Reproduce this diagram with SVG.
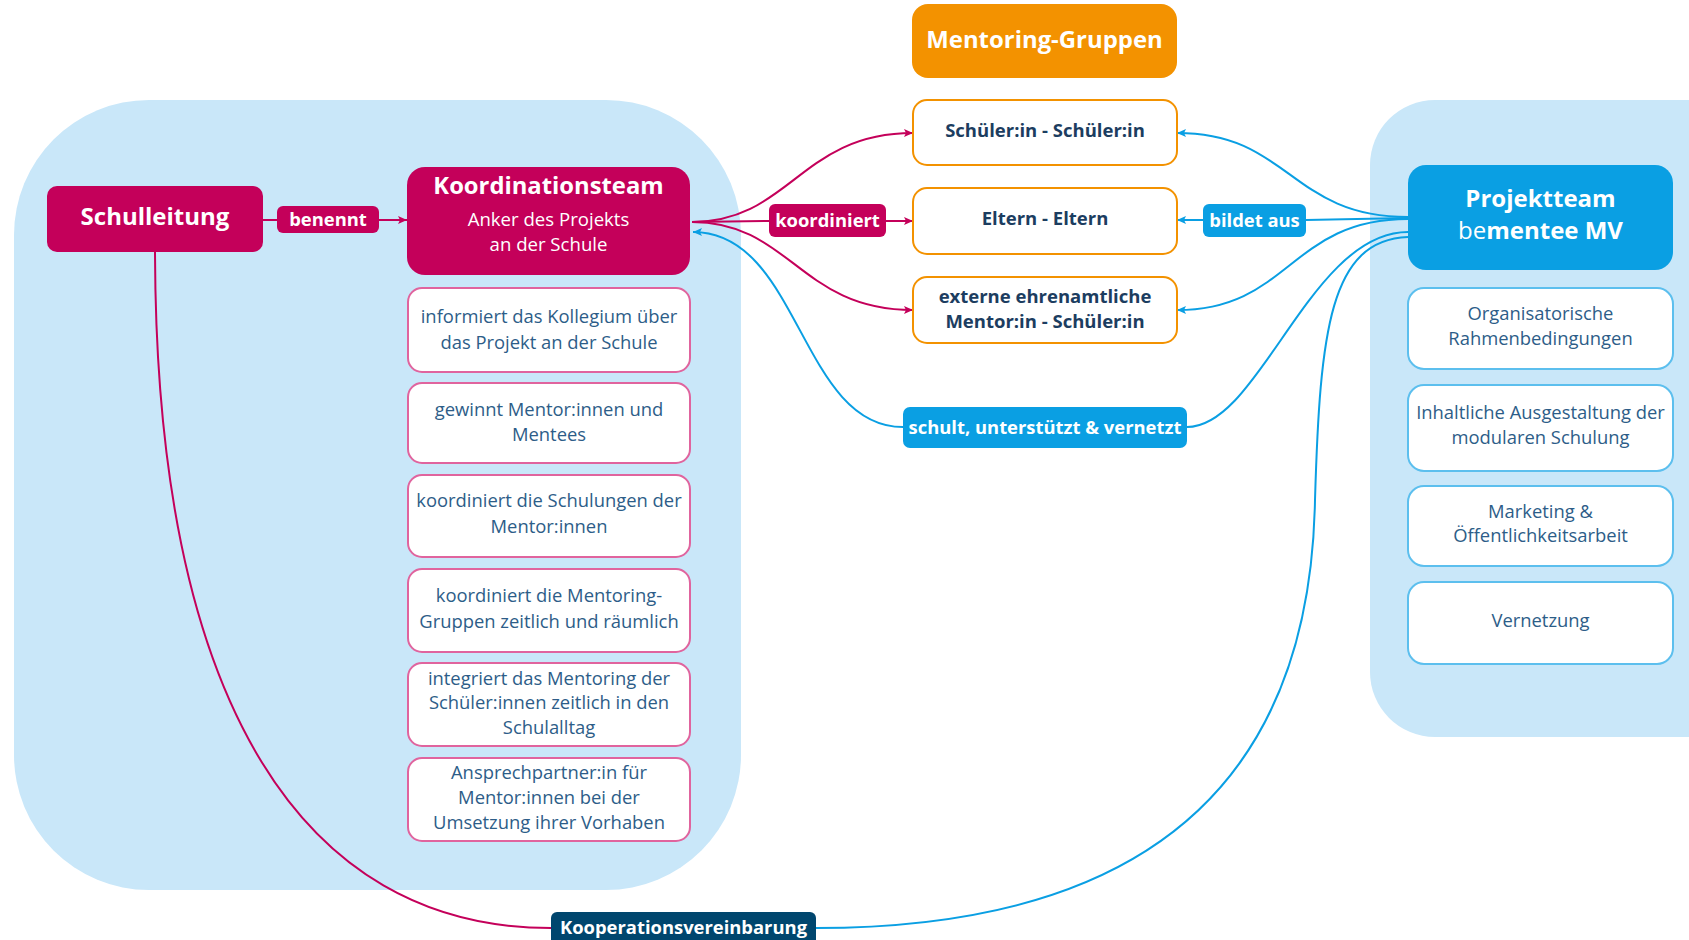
<svg xmlns="http://www.w3.org/2000/svg" width="1689" height="940" viewBox="0 0 1689 940">
<style>
text{font-family:"Open Sans","Noto Sans","Liberation Sans",sans-serif;text-anchor:middle}
.panel{fill:#C9E7F9}
.mag{fill:#C4005A}
.blu{fill:#0A9FE3}
.item-l{fill:#fff;stroke:#E0649E;stroke-width:2}
.item-r{fill:#fff;stroke:#5CBFEE;stroke-width:2}
.item-o{fill:#fff;stroke:#F39200;stroke-width:2}
.it{font-size:18.4px;fill:#2D5D88}
.ot{font-size:18.5px;font-weight:700;fill:#1C3D60}
.lb{font-size:18.4px;font-weight:700;fill:#fff}
.wt{fill:#fff}
.cr{fill:none;stroke:#C4005A;stroke-width:2}
.cb{fill:none;stroke:#0A9FE3;stroke-width:2}
</style>
<defs>
<marker id="ar" markerUnits="userSpaceOnUse" markerWidth="10" markerHeight="10" refX="9" refY="4" orient="auto"><path d="M0,0 L9,4 L0,8 L2,4 z" fill="#C4005A"/></marker>
<marker id="ab" markerUnits="userSpaceOnUse" markerWidth="10" markerHeight="10" refX="9" refY="4" orient="auto"><path d="M0,0 L9,4 L0,8 L2,4 z" fill="#0A9FE3"/></marker>
</defs>
<rect width="1689" height="940" fill="#fff"/>
<g id="panels">
<rect class="panel" x="14" y="100" width="727" height="790" rx="135" ry="135"/>
<rect class="panel" x="1370" y="100" width="400" height="637" rx="65" ry="65"/>
</g>
<g id="connectors">
<path class="cr" d="M263,220 L277,220"/>
<path class="cr" d="M379,220 L407,220" marker-end="url(#ar)"/>
<path class="cr" d="M692,222 C790,222 800,133 913,133" marker-end="url(#ar)"/>
<path class="cr" d="M692,222 L769,221"/>
<path class="cr" d="M886,221 L913,221" marker-end="url(#ar)"/>
<path class="cr" d="M692,222 C790,222 800,310 913,310" marker-end="url(#ar)"/>
<path class="cr" d="M155,252 C156,700 300,928 551,928"/>
<path class="cb" d="M1408,217 C1290,217 1290,133 1177,133" marker-end="url(#ab)"/>
<path class="cb" d="M1408,218 L1306,220"/>
<path class="cb" d="M1203,220 L1177,220" marker-end="url(#ab)"/>
<path class="cb" d="M1408,219 C1290,219 1290,310 1177,310" marker-end="url(#ab)"/>
<path class="cb" d="M1408,232 C1310,232 1260,427 1187,427"/>
<path class="cb" d="M903,427 C800,427 800,232 693,232" marker-end="url(#ab)"/>
<path class="cb" d="M1408,237 C1330,240 1320,330 1315,500 C1310,780 1150,928 816,928"/>
</g>
<g id="schulleitung">
<rect class="mag" x="47" y="186" width="216" height="66" rx="10"/>
<text x="155" y="225" class="wt" font-size="24" font-weight="700">Schulleitung</text>
</g>
<g id="label-benennt">
<rect class="mag" x="277" y="206" width="102" height="27" rx="6"/>
<text x="328" y="226" class="lb">benennt</text>
</g>
<g id="koordinationsteam">
<rect class="mag" x="407" y="167" width="283" height="108" rx="18"/>
<text x="548.5" y="193.5" class="wt" font-size="23.8" font-weight="700">Koordinationsteam</text>
<text x="548.5" y="225.5" class="wt" font-size="18.6">Anker des Projekts</text>
<text x="548.5" y="251" class="wt" font-size="18.6">an der Schule</text>
</g>
<g id="kt-1">
<rect class="item-l" x="408" y="288" width="282" height="84" rx="14"/>
<text x="549" y="323" class="it">informiert das Kollegium über</text>
<text x="549" y="349" class="it">das Projekt an der Schule</text>
</g>
<g id="kt-2">
<rect class="item-l" x="408" y="383" width="282" height="80" rx="14"/>
<text x="549" y="416" class="it">gewinnt Mentor:innen und</text>
<text x="549" y="441" class="it">Mentees</text>
</g>
<g id="kt-3">
<rect class="item-l" x="408" y="475" width="282" height="82" rx="14"/>
<text x="549" y="507" class="it">koordiniert die Schulungen der</text>
<text x="549" y="533" class="it">Mentor:innen</text>
</g>
<g id="kt-4">
<rect class="item-l" x="408" y="569" width="282" height="83" rx="14"/>
<text x="549" y="602" class="it">koordiniert die Mentoring-</text>
<text x="549" y="628" class="it">Gruppen zeitlich und räumlich</text>
</g>
<g id="kt-5">
<rect class="item-l" x="408" y="663" width="282" height="83" rx="14"/>
<text x="549" y="685" class="it">integriert das Mentoring der</text>
<text x="549" y="709" class="it">Schüler:innen zeitlich in den</text>
<text x="549" y="734" class="it">Schulalltag</text>
</g>
<g id="kt-6">
<rect class="item-l" x="408" y="758" width="282" height="83" rx="14"/>
<text x="549" y="779" class="it">Ansprechpartner:in für</text>
<text x="549" y="804" class="it">Mentor:innen bei der</text>
<text x="549" y="829" class="it">Umsetzung ihrer Vorhaben</text>
</g>
<g id="mentoring-gruppen">
<rect x="912" y="4" width="265" height="74" rx="16" fill="#F39200"/>
<text x="1044.5" y="47.5" class="wt" font-size="23.9" font-weight="700">Mentoring-Gruppen</text>
</g>
<g id="mg-1">
<rect class="item-o" x="913" y="100" width="264" height="65" rx="14"/>
<text x="1045" y="137" class="ot">Schüler:in - Schüler:in</text>
</g>
<g id="mg-2">
<rect class="item-o" x="913" y="188" width="264" height="66" rx="14"/>
<text x="1045" y="225" class="ot">Eltern - Eltern</text>
</g>
<g id="mg-3">
<rect class="item-o" x="913" y="277" width="264" height="66" rx="14"/>
<text x="1045" y="302.5" class="ot">externe ehrenamtliche</text>
<text x="1045" y="327.5" class="ot">Mentor:in - Schüler:in</text>
</g>
<g id="label-koordiniert">
<rect class="mag" x="769" y="204" width="117" height="33" rx="6"/>
<text x="827.5" y="227" class="lb">koordiniert</text>
</g>
<g id="label-bildet-aus">
<rect class="blu" x="1203" y="204" width="103" height="33" rx="6"/>
<text x="1254.5" y="227" class="lb">bildet aus</text>
</g>
<g id="label-schult">
<rect class="blu" x="903" y="407" width="284" height="41" rx="7"/>
<text x="1045" y="433.5" class="lb">schult, unterstützt &amp; vernetzt</text>
</g>
<g id="projektteam">
<rect class="blu" x="1408" y="165" width="265" height="105" rx="18"/>
<text x="1540.5" y="206.5" class="wt" font-size="24" font-weight="700">Projektteam</text>
<text x="1540.5" y="239" class="wt" font-size="24"><tspan>be</tspan><tspan font-weight="700">mentee MV</tspan></text>
</g>
<g id="pt-1">
<rect class="item-r" x="1408" y="288" width="265" height="81" rx="16"/>
<text x="1540.5" y="320" class="it">Organisatorische</text>
<text x="1540.5" y="345" class="it">Rahmenbedingungen</text>
</g>
<g id="pt-2">
<rect class="item-r" x="1408" y="385" width="265" height="86" rx="16"/>
<text x="1540.5" y="419" class="it">Inhaltliche Ausgestaltung der</text>
<text x="1540.5" y="444" class="it">modularen Schulung</text>
</g>
<g id="pt-3">
<rect class="item-r" x="1408" y="486" width="265" height="80" rx="16"/>
<text x="1540.5" y="518" class="it">Marketing &amp;</text>
<text x="1540.5" y="542" class="it">Öffentlichkeitsarbeit</text>
</g>
<g id="pt-4">
<rect class="item-r" x="1408" y="582" width="265" height="82" rx="16"/>
<text x="1540.5" y="627" class="it">Vernetzung</text>
</g>
<g id="label-kooperation">
<rect x="551" y="912" width="265" height="36" rx="6" fill="#00466E"/>
<text x="683.5" y="934" class="lb">Kooperationsvereinbarung</text>
</g>
</svg>
